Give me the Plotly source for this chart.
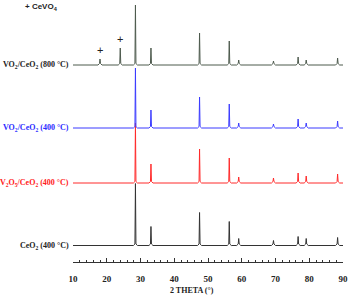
import plotly.graph_objects as go

# Peak positions (2 theta, degrees) and heights for each pattern
peaks_ceo2 = [28.5, 33.1, 47.5, 56.3, 59.1, 69.4, 76.7, 79.1, 88.4]
h_ceo2 = [62, 19, 33, 24, 7, 5, 9, 7, 8]
h_v2o5 = [60, 19, 34, 25, 6, 5, 10, 7, 9]
h_vo2_400 = [60, 18, 31, 24, 5, 4, 9, 5, 7]
h_vo2_800 = [60, 17, 32, 24, 5, 4, 8, 5, 7]
peaks_cevo4 = [18.0, 24.0]
h_cevo4 = [6, 17]

# vertical offsets of the stacked patterns
offsets = [16.5, 79, 134, 197]
names = ["CeO<sub>2</sub> (400 °C)",
         "V<sub>2</sub>O<sub>5</sub>/CeO<sub>2</sub> (400 °C)",
         "VO<sub>2</sub>/CeO<sub>2</sub> (400 °C)",
         "VO<sub>2</sub>/CeO<sub>2</sub> (800 °C)"]
colors = ["#333333", "#ff2a2a", "#3b3bff", "#4d5a4d"]
label_colors = ["#222222", "#ff2020", "#2a2aff", "#222222"]
x_ticks = [10, 20, 30, 40, 50, 60, 70, 80, 90]


def pattern(pos, hts, base):
    pairs = sorted(zip(pos, hts))
    xs, ys = [10], [base]
    for p, h in pairs:
        xs += [p - 0.6, p - 0.15, p, p + 0.15, p + 0.6]
        ys += [base, base + 1.5, base + h, base + 1.5, base]
    xs.append(90)
    ys.append(base)
    return xs, ys


fig = go.Figure()
series = [
    (peaks_ceo2, h_ceo2),
    (peaks_ceo2, h_v2o5),
    (peaks_ceo2, h_vo2_400),
    (peaks_ceo2 + peaks_cevo4, h_vo2_800 + h_cevo4),
]
for (pos, hts), base, col in zip(series, offsets, colors):
    xs, ys = pattern(pos, hts, base)
    fig.add_trace(go.Scatter(x=xs, y=ys, mode="lines",
                             line=dict(color=col, width=1), hoverinfo="skip"))

serif = "Liberation Serif"
for name, base, col in zip(names, offsets, label_colors):
    fig.add_annotation(x=-0.008, xref="paper", y=base, yref="y", text="<b>" + name + "</b>",
                       showarrow=False, xanchor="right", yanchor="middle",
                       font=dict(family=serif, size=8, color=col))

# CeVO4 markers
for p, h in zip(peaks_cevo4, h_cevo4):
    fig.add_annotation(x=p, y=offsets[3] + h + 9, text="+", showarrow=False,
                       font=dict(family="Liberation Sans", size=11, color="#222"),
                       xanchor="center", yanchor="middle")
fig.add_annotation(x=-0.185, xref="paper", y=255, yref="y",
                   text="<b>+ CeVO<sub>4</sub></b>", showarrow=False,
                   xanchor="left", yanchor="middle",
                   font=dict(family="Liberation Sans", size=8, color="#222"))

fig.add_annotation(x=0.44, xref="paper", y=-0.11, yref="paper",
                   text="<b>2 THETA (°)</b>", showarrow=False,
                   xanchor="center", yanchor="middle",
                   font=dict(family=serif, size=8, color="#222"))

fig.update_xaxes(range=[10, 90], tickvals=x_ticks, ticktext=[f"<b>{v}</b>" for v in x_ticks],
                 ticks="inside", ticklen=4, tickwidth=1, tickcolor="#333",
                 showline=True, linecolor="#333", linewidth=1, showgrid=False, zeroline=False,
                 tickfont=dict(family=serif, size=9, color="#222"), ticklabelstandoff=8,
                 automargin=False,
                 minor=dict(ticks="inside", ticklen=2, dtick=2, tickcolor="#333", showgrid=False))
fig.update_yaxes(range=[0, 262], visible=False, showgrid=False, zeroline=False, automargin=False)
fig.update_layout(width=348, height=298, margin=dict(l=73, r=5, t=0, b=36),
                  plot_bgcolor="white", paper_bgcolor="white", showlegend=False)
fig.write_html("out.html", config={"displayModeBar": False, "staticPlot": True},
               post_script="document.body.style.margin='0';document.body.style.overflow='hidden';")
